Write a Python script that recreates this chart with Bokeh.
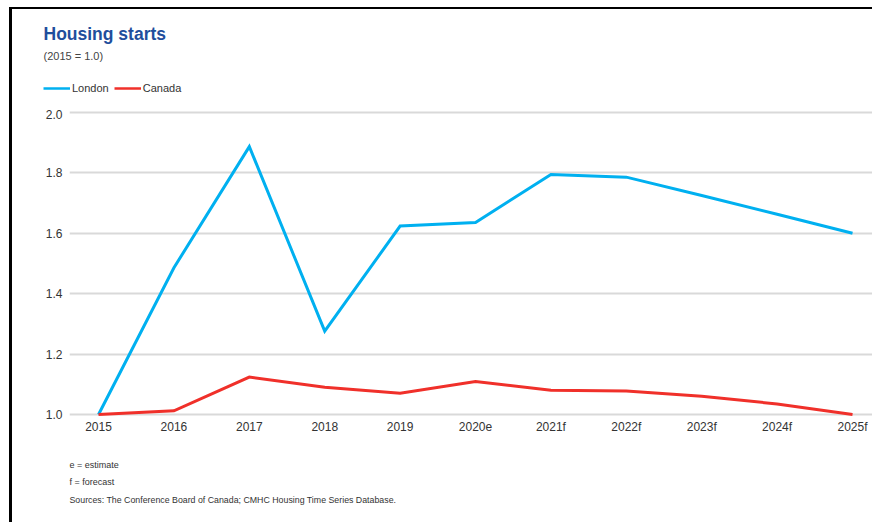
from bokeh.plotting import figure
from bokeh.models import Range1d, Label, FixedTicker, Legend, LegendItem, NumeralTickFormatter
from bokeh.layouts import column
from bokeh.embed import file_html
from bokeh.resources import INLINE

categories = ["2015", "2016", "2017", "2018", "2019", "2020e", "2021f", "2022f", "2023f", "2024f", "2025f"]
london = [1.0, 1.486, 1.887, 1.276, 1.624, 1.636, 1.795, 1.786, 1.725, 1.663, 1.60]
canada = [1.0, 1.012, 1.124, 1.090, 1.070, 1.109, 1.080, 1.078, 1.060, 1.035, 1.0]
y_ticks = [1.0, 1.2, 1.4, 1.6, 1.8, 2.0]

FONT = "Liberation Sans"
LONDON_C = "#00b0f0"
CANADA_C = "#f0302a"
xs = list(range(len(categories)))
W = 860


def bare(height):
    f = figure(width=W, height=height, output_backend="svg", toolbar_location=None, title=None,
               x_axis_type=None, y_axis_type=None, x_range=Range1d(100, 101), y_range=Range1d(0, 1),
               min_border=0)
    f.outline_line_color = None
    f.xgrid.visible = False
    f.ygrid.visible = False
    return f


def txt(f, x, y, s, size, color="#333333", style="normal"):
    f.add_layout(Label(x=x, y=y, x_units="screen", y_units="screen", text=s,
                       text_font=FONT, text_font_size=size, text_color=color,
                       text_font_style=style, text_baseline="middle", text_align="left"))


# ---- header: title, subtitle, legend
head = bare(100)
h1 = head.line(xs, london, line_color=LONDON_C, line_width=2.5)
h2 = head.line(xs, canada, line_color=CANADA_C, line_width=2.5)
txt(head, 31, 76, "Housing starts", "17.5px", color="#1f4e9c", style="bold")
txt(head, 31, 54, "(2015 = 1.0)", "11px", color="#444444")
legend = Legend(items=[LegendItem(label="London", renderers=[h1]),
                       LegendItem(label="Canada", renderers=[h2])],
                orientation="horizontal", location=(31, 14),
                padding=0, margin=0, spacing=5, glyph_width=27, glyph_height=14,
                label_height=14, label_standoff=2, label_text_font=FONT,
                label_text_font_size="11px", label_text_color="#333333",
                border_line_color=None, background_fill_alpha=0)
head.add_layout(legend, "center")

# ---- main chart
p = figure(width=W, height=338, output_backend="svg", toolbar_location=None, title=None,
           x_range=Range1d(-0.385, 10.265), y_range=Range1d(0.99, 2.01),
           min_border_left=57, min_border_right=0, min_border_top=0, min_border_bottom=30)
p.outline_line_color = None
p.line(xs, london, line_color=LONDON_C, line_width=3, line_join="miter")
p.line(xs, canada, line_color=CANADA_C, line_width=3, line_join="miter")

p.xaxis.ticker = FixedTicker(ticks=xs)
p.xaxis.major_label_overrides = {i: c for i, c in enumerate(categories)}
p.yaxis.ticker = FixedTicker(ticks=y_ticks)
p.yaxis.formatter = NumeralTickFormatter(format="0.0")
for ax in (p.xaxis[0], p.yaxis[0]):
    ax.axis_line_color = None
    ax.major_tick_line_color = None
    ax.minor_tick_line_color = None
    ax.major_tick_out = 0
    ax.major_tick_in = 0
    ax.minor_tick_out = 0
    ax.major_label_text_font = FONT
    ax.major_label_text_font_size = "12px"
    ax.major_label_text_color = "#333333"
p.xaxis.major_label_standoff = 2
p.yaxis.major_label_standoff = 7
p.xgrid.grid_line_color = None
p.ygrid.grid_line_color = "#d9d9d9"
p.ygrid.grid_line_width = 2

# ---- footer: notes and sources
foot = bare(75)
txt(foot, 57, 58, "e = estimate", "9px")
txt(foot, 57, 41, "f = forecast", "9px")
txt(foot, 57, 23, "Sources: The Conference Board of Canada; CMHC Housing Time Series Database.", "8.8px")

layout = column(column(head), column(p), column(foot), spacing=0,
                styles={"border-top": "2px solid #000", "border-left": "3px solid #000",
                        "margin-left": "9px", "margin-top": "7px"})

open("out.html", "w").write(file_html(layout, INLINE))
